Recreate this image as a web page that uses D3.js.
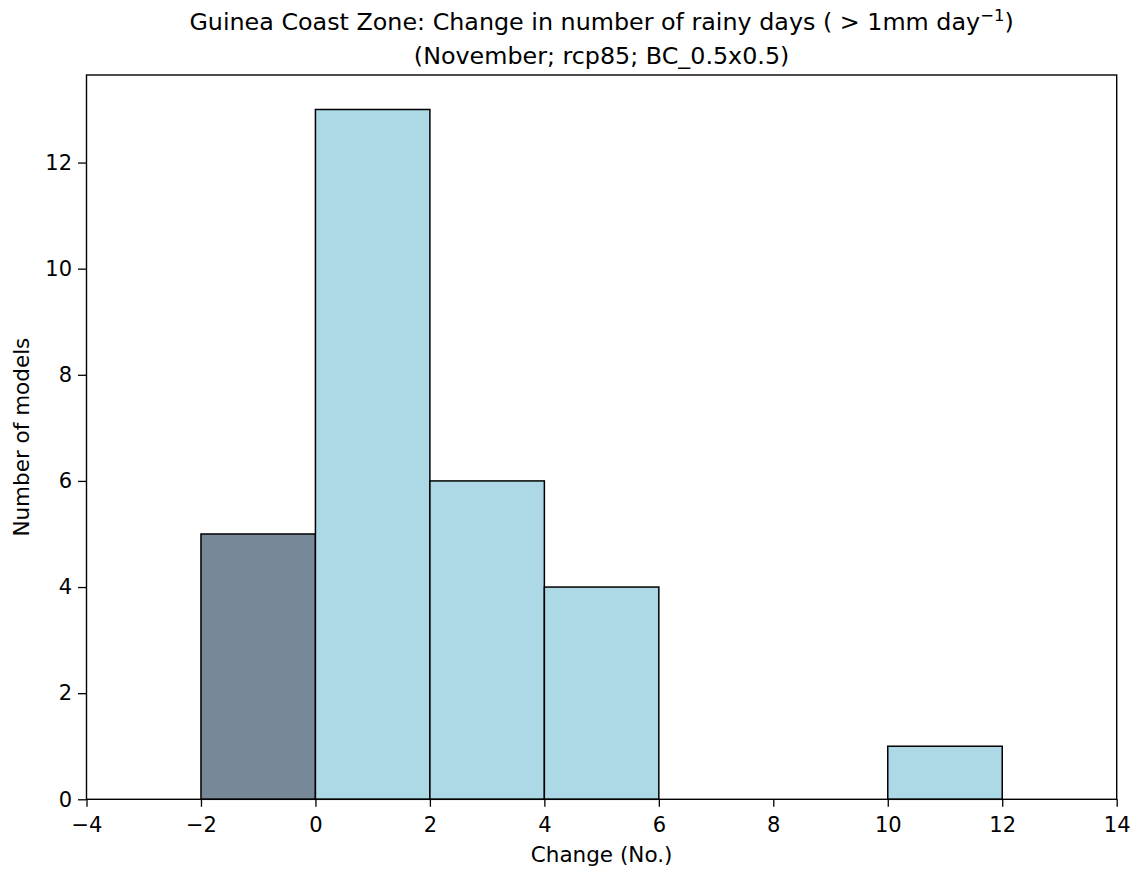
<!DOCTYPE html>
<html><head><meta charset="utf-8">
<script src="https://cdn.jsdelivr.net/npm/d3@7"></script>
<style>body{margin:0;background:#fff;} text{font-family:"DejaVu Sans",sans-serif;fill:#000;}</style>
</head><body>
<svg id="c" width="1135" height="869"></svg>
<script>
const binStarts = [-2, 0, 2, 4, 10];
const binEnds = [0, 2, 4, 6, 12];
const counts = [5, 13, 6, 4, 1];
const binColors = ["#778899", "#add8e6", "#add8e6", "#add8e6", "#add8e6"];
const xTicks = [-4, -2, 0, 2, 4, 6, 8, 10, 12, 14];
const yTicks = [0, 2, 4, 6, 8, 10, 12];

const svg = d3.select("#c");
const L = 86.5, R = 1116.7, T = 75, B = 799.3;
const x = d3.scaleLinear().domain([-4, 14]).range([L, R]);
const y = d3.scaleLinear().domain([0, 13.65]).range([B, T]);
const FS = "21px", LS = "21.5px";

svg.selectAll("rect.bar").data(counts).enter().append("rect")
  .attr("class","bar")
  .attr("x",(d,i)=>x(binStarts[i]))
  .attr("width",(d,i)=>x(binEnds[i])-x(binStarts[i]))
  .attr("y",d=>y(d))
  .attr("height",d=>y(0)-y(d))
  .attr("fill",(d,i)=>binColors[i])
  .attr("stroke","#000").attr("stroke-width",1.5);

svg.append("rect").attr("x",L).attr("y",T).attr("width",R-L).attr("height",B-T)
  .attr("fill","none").attr("stroke","#000").attr("stroke-width",1.4);

const xa = svg.append("g").attr("transform",`translate(0,${B})`)
  .call(d3.axisBottom(x).tickValues(xTicks).tickSize(7.5).tickPadding(5).tickFormat(d=>d<0?"\u2212"+Math.abs(d):d));
const ya = svg.append("g").attr("transform",`translate(${L},0)`)
  .call(d3.axisLeft(y).tickValues(yTicks).tickSize(8.5).tickPadding(6));
[xa,ya].forEach(a=>{a.select(".domain").remove();a.selectAll("line").attr("stroke","#000").attr("stroke-width",1.3);
  a.selectAll("text").style("font-family","DejaVu Sans").style("font-size",FS).attr("fill","#000");});
xa.selectAll("text").attr("y",null).attr("dy",null).attr("y",32.5);

svg.append("text").attr("x",(L+R)/2).attr("y",862).attr("text-anchor","middle").style("font-size",LS).text("Change (No.)");
svg.append("text").attr("transform",`translate(29,${(T+B)/2}) rotate(-90)`).attr("text-anchor","middle").style("font-size",LS).text("Number of models");

const t1 = svg.append("text").attr("x",(L+R)/2).attr("y",30).attr("text-anchor","middle").style("font-size","23.8px");
t1.append("tspan").text("Guinea Coast Zone: Change in number of rainy days ( > 1mm day");
t1.append("tspan").attr("dy",-9).style("font-size","16.5px").text("\u22121");
t1.append("tspan").attr("dy",9).text(")");
svg.append("text").attr("x",(L+R)/2).attr("y",64).attr("text-anchor","middle").style("font-size","23.8px").text("(November; rcp85; BC_0.5x0.5)");
</script>
</body></html>
